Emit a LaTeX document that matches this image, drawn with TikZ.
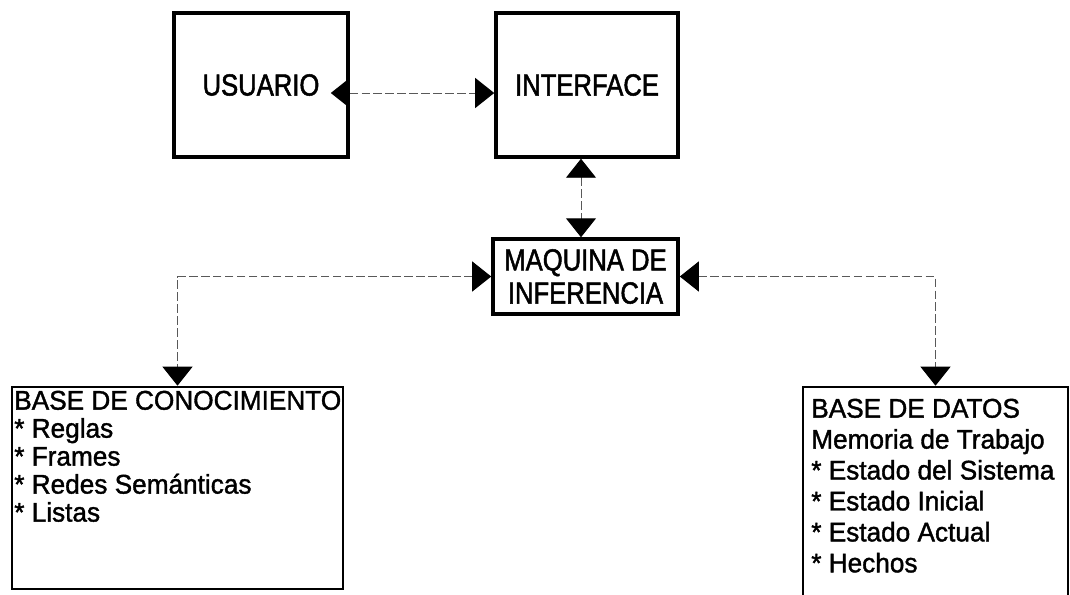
\documentclass[tikz,border=0pt]{standalone}
\usepackage{fontspec}
\setmainfont{Liberation Sans}
\newfontfamily\labelfont{Liberation Sans}[FakeStretch=0.84, FakeBold=1.6]
\newfontfamily\listfont{Liberation Sans}[FakeStretch=0.97, FakeBold=1.4]
\usetikzlibrary{arrows.meta}

\begin{document}
\begin{tikzpicture}[x=0.025cm, y=-0.025cm,
  >={Triangle[length=13.5pt, width=21.3pt, color=black]},
  topbox/.style={draw, line width=2.5pt, inner sep=0pt,
    font=\labelfont\fontsize{21.7pt}{23.5pt}\selectfont},
  lowbox/.style={draw, line width=1.8pt, inner sep=0pt},
  listtext/.style={inner sep=0pt, align=left, anchor=north west},
  conn/.style={draw=black!65, line width=0.7pt, dash pattern=on 6pt off 2.5pt}]

  \path[use as bounding box] (0,0) rectangle (1070,594);
  \clip (0,0) rectangle (1070,594);

  % top row
  \node[topbox, minimum width=123.8pt, minimum height=102.4pt] (user) at (261,85) {USUARIO};
  \node[topbox, minimum width=129.5pt, minimum height=102.4pt] (iface) at (587,85) {INTERFACE};

  % inference engine
  \node[topbox, minimum width=131.6pt, minimum height=53.3pt, align=center] (maq) at (585.5,276.5)
    {MAQUINA DE\\INFERENCIA};

  % knowledge base
  \node[lowbox, minimum width=235.4pt, minimum height=143.7pt] (kb) at (177.5,488) {};
  \node[listtext, font=\listfont\fontsize{19.2pt}{19.9pt}\selectfont] (kbtext) at (14,390.5)
    {BASE DE CONOCIMIENTO\\* Reglas\\* Frames\\* Redes Semánticas\\* Listas};

  % data base
  \node[lowbox, minimum width=188.5pt, minimum height=151.5pt] (db) at (935.5,493.5) {};
  \node[listtext, font=\listfont\fontsize{19.2pt}{22pt}\selectfont] (dbtext) at (811,398.5)
    {BASE DE DATOS\\Memoria de Trabajo\\* Estado del Sistema\\* Estado Inicial\\* Estado Actual\\* Hechos};

  % connectors
  \coordinate (ay) at (0,93);
  \coordinate (vx) at (581,0);
  \draw[conn, <->, shorten <=-13.5pt] (user.east |- ay) -- (iface.west |- ay);
  \draw[conn, <->] (iface.south -| vx) -- (maq.north -| vx);
  \draw[conn, <->] (maq.west) -| (kb.north);
  \draw[conn, <->] (maq.east) -| (db.north);
\end{tikzpicture}
\end{document}
